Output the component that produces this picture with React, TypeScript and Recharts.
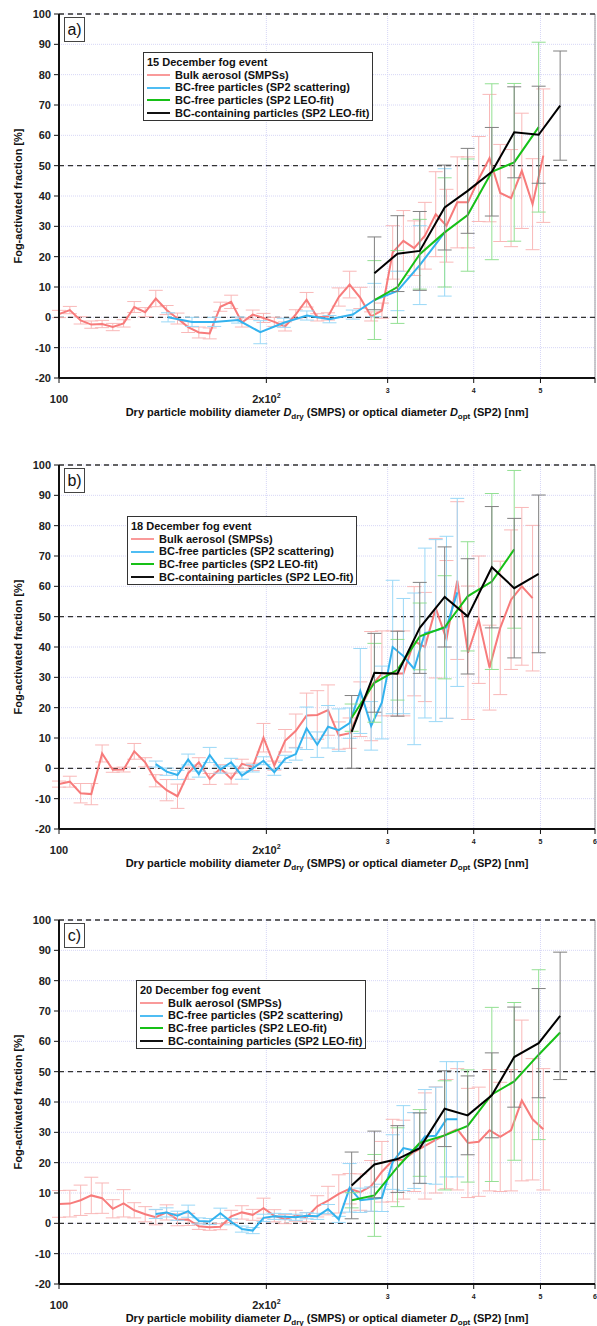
import React from 'react';
import { LineChart, Line, XAxis, YAxis, CartesianGrid, ErrorBar, ReferenceLine } from 'recharts';

const FONT = '"Liberation Sans", Arial, sans-serif';

// SMPS size bins [nm]
const smpsD = [100, 103.7, 107.5, 111.4, 115.5, 119.7, 124.1, 128.6, 133.4, 138.2, 143.3, 148.6, 154.0, 159.6, 165.5, 171.5, 177.8, 184.3, 191.1, 198.1, 205.4, 212.9, 220.7, 228.8, 237.1, 245.8, 254.8, 264.2, 273.8, 283.9, 294.3, 305.1, 316.2, 327.8, 339.8, 352.3, 365.2, 378.6, 392.4, 406.8, 421.7, 437.1, 453.2, 469.8, 487.0, 504.8];
// SP2 LEO-fit bins [nm]
const leoD = [266, 287, 310, 334, 363, 392, 425, 458, 497, 534];

// a) 15 December
const bulkA = [1.1, 2.4, -1.0, -2.4, -2.2, -3.2, -2.0, 3.4, 1.7, 6.2, 2.4, -0.4, -3.2, -5.0, -5.3, 3.5, 5.1, -1.7, 0.9, -0.2, -1.5, -3.0, 1.0, 5.8, 0.0, 0.3, 6.7, 10.8, 6.4, 0.3, 2.2, 21.4, 25.2, 22.8, 26.9, 34.0, 30.2, 37.9, 37.9, 45.6, 52.5, 41.0, 39.3, 48.3, 37.3, 53.3];
const bulkAErr = [1.2, 1.2, 1.2, 1.2, 1.2, 1.2, 1.2, 1.8, 1.5, 2.7, 1.5, 1.8, 1.8, 1.8, 1.8, 1.5, 2.2, 1.5, 1.5, 1.5, 1.5, 1.5, 1.5, 2.4, 1.2, 1.2, 3.0, 4.4, 3.5, 1.5, 2.5, 8.8, 10, 9, 11, 14, 12, 15, 15, 14, 21, 16, 16, 19, 15, 22];
const scatDA = [144, 156, 168, 182, 196, 212, 229, 247, 267, 287, 310, 334, 363];
const scatA = [0.0, -1.5, -1.5, -0.9, -4.9, -1.8, 0.6, -0.6, 0.9, 5.7, 8.7, 17.2, 28.0];
const scatAErr = [1.5, 1.5, 1.5, 1.0, 3.8, 1.5, 1.5, 1.2, 1.5, 5.5, 6.5, 13, 21];
const leoFreeA = [5.7, 10.0, 20.8, 28.0, 33.7, 48.0, 51.1, 62.7];
const leoFreeAErr = [13, 12, 11.5, 18, 18.5, 29, 26, 28];
const bcA = [14.5, 21.0, 21.9, 36.2, 41.7, 48.0, 61.0, 60.2, 69.8];
const bcAErr = [12, 12.5, 13, 14, 14, 14.6, 15, 16, 18];

// b) 18 December
const bulkB = [-5.2, -4.4, -8.2, -8.5, 4.9, -0.5, -0.4, 5.6, 2.0, -4.1, -7.2, -9.2, -1.6, 2.0, -3.5, 0.0, -3.4, 1.5, 0.5, 10.1, 0.9, 9.1, 12.4, 17.4, 17.6, 19.2, 10.8, 11.6, 19.5, 27.1, 31.3, 31.3, 31.3, 41.9, 40.0, 52.8, 42.5, 61.9, 38.1, 49.0, 33.2, 46.3, 55.6, 60.0, 56.1];
const bulkBErr = [1.0, 1.8, 3.2, 3.5, 2.8, 0.8, 0.8, 2.6, 1.5, 2.0, 3.5, 4.0, 2.0, 1.5, 1.8, 1.2, 1.8, 1.5, 1.2, 4.7, 1.5, 3.7, 5.5, 7.4, 8.0, 8.3, 4.5, 5.0, 9, 18, 14, 14, 14, 18, 18, 23, 26, 26, 22, 21, 14, 22, 23, 26, 24];
const scatB = [1.4, -1.1, -2.2, 2.9, -1.9, 4.4, -0.4, 2.0, -2.4, 0.0, 2.5, -1.3, 3.1, 4.7, 13.2, 7.8, 13.7, 12.6, 14.9, 25.5, 14.0, 21.7, 40.0, 37.0, 32.8, 44.6, 45.4, 46.5, 58.0];
const scatBErr = [1.0, 1.2, 1.5, 1.8, 1.0, 2.5, 1.2, 1.3, 1.2, 1.2, 1.3, 1.0, 1.2, 2.0, 7.0, 4.2, 7.0, 7.0, 5.0, 14, 8, 12, 22, 19, 25, 28, 30, 30, 31];
const leoFreeB = [16.7, 28.2, 32.5, 43.5, 46.5, 56.7, 61.6, 72.2];
const leoFreeBErr = [4.5, 13, 10, 11, 17, 18, 29, 26];
const bcB = [12.0, 31.5, 31.2, 46.3, 56.5, 50.1, 66.3, 59.4, 64.1];
const bcBErr = [12, 13, 14, 15, 16.5, 19, 20, 23, 26];

// c) 20 December
const bulkC = [6.4, 6.5, 7.6, 9.2, 8.3, 4.8, 6.6, 4.3, 3.0, 2.0, 3.6, 1.2, 1.3, -1.0, -1.3, -1.1, 2.3, 3.6, 2.8, 5.0, 2.5, 1.4, 2.5, 2.0, 5.6, 7.5, 9.7, 11.4, 10.3, 12.3, 17.0, 20.7, 21.0, 23.5, 25.5, 27.5, 29.4, 31.0, 26.5, 26.9, 30.7, 28.5, 30.7, 40.5, 34.3, 31.0];
const bulkCErr = [4.4, 4.4, 5.0, 6.0, 5.0, 3.0, 4.5, 2.5, 2.5, 2.5, 2.5, 2.0, 2.0, 1.0, 1.0, 1.0, 2.0, 2.2, 1.8, 3.3, 2.0, 1.5, 1.8, 1.5, 3.5, 4.7, 6.3, 5.0, 6.0, 8.4, 10, 13.6, 13, 13, 17.5, 17.5, 18, 20, 18, 18, 20, 18, 20, 26.5, 20, 20];
const scatC = [3.1, 3.6, 2.5, 4.0, 0.8, 0.6, 3.3, 0.5, -1.9, -2.4, 1.8, 2.3, 2.2, 2.0, 2.5, 2.3, 4.7, 1.3, 11.7, 7.6, 8.0, 8.4, 20.2, 24.8, 24.0, 28.6, 28.9, 34.3, 34.3];
const scatCErr = [1.5, 1.5, 1.5, 2.0, 1.0, 1.0, 1.7, 1.0, 1.0, 1.0, 1.2, 1.0, 1.0, 1.0, 1.0, 1.0, 1.5, 1.0, 8, 4, 4, 4.5, 9, 14, 12.5, 15.5, 16, 19, 19];
const leoFreeC = [7.6, 9.2, 18.5, 26.5, 29.0, 32.1, 42.5, 46.8, 55.6, 62.9];
const leoFreeCErr = [2.5, 13.5, 13, 11, 18, 18.5, 28.7, 26, 28, 0];
const bcC = [12.5, 19.4, 21.2, 24.8, 37.8, 35.6, 42.2, 54.8, 59.4, 68.4];
const bcCErr = [11, 11, 11, 11.6, 12.5, 13, 14, 16.5, 18, 21];

const yTicks = [-20, -10, 0, 10, 20, 30, 40, 50, 60, 70, 80, 90, 100];
const xTicks = [100, 200, 300, 400, 500, 600];

const rows = (d: number[], v: number[], e: number[]) => v.map((val, i) => ({ d: d[i], v: val, e: e[i] }));

const COLORS = {
  bulk: '#f77b7b', bulkErr: '#f9b8b8',
  scat: '#33b2ee', scatErr: '#9ad8f7',
  leo: '#17c017', leoErr: '#93e093',
  bc: '#000000', bcErr: '#808080',
};

const LEGEND = [
  { label: 'Bulk aerosol (SMPSs)', color: '#f99a9a' },
  { label: 'BC-free particles (SP2 scattering)', color: '#4fbdf3' },
  { label: 'BC-free particles (SP2 LEO-fit)', color: '#17c017' },
  { label: 'BC-containing particles (SP2 LEO-fit)', color: '#111' },
];

const PLOT_H = 364;
const CH = 14 + PLOT_H + 40;

const renderXTick = (props: any, six: boolean) => {
  const { x, y, payload } = props;
  const v = payload.value;
  const common = { fontFamily: FONT, fontWeight: 'bold' as const, fill: '#222', textAnchor: 'middle' as const };
  if (v === 100) return <text x={x} y={y + 20} fontSize={11} {...common}>100</text>;
  if (v === 200)
    return (
      <text x={x} y={y + 20} fontSize={11} {...common}>
        2x10<tspan dy={-5} fontSize={7}>2</tspan>
      </text>
    );
  if (v === 600 && !six) return <g />;
  return <text x={x} y={y + 10} fontSize={7} {...common}>{v / 100}</text>;
};

interface PanelProps {
  top: number;
  tag: string;
  title: string;
  legendLeft: number;
  legendTop: number;
  six: boolean;
  bulk: { d: number; v: number; e: number }[];
  scat: { d: number; v: number; e: number }[];
  leo: { d: number; v: number; e: number }[];
  bc: { d: number; v: number; e: number }[];
}

const Panel: React.FC<PanelProps> = ({ top, tag, title, legendLeft, legendTop, six, bulk, scat, leo, bc }) => (
  <div style={{ position: 'absolute', left: 0, top, width: 597, height: CH }}>
    <LineChart width={597} height={CH} margin={{ top: 14, right: 2, bottom: 0, left: 0 }}>
      <CartesianGrid stroke="#d6d6f6" strokeDasharray="1 1" />
      <XAxis
        dataKey="d" type="number" scale="log" domain={[100, 600]} allowDataOverflow
        ticks={xTicks} interval={0} height={40} tickSize={5} tickMargin={0}
        axisLine={{ stroke: '#111', strokeWidth: 2 }} tickLine={{ stroke: '#111' }}
        tick={(p: any) => renderXTick(p, six)}
      />
      <YAxis
        type="number" domain={[-20, 100]} ticks={yTicks} interval={0} width={59} allowDataOverflow
        tickSize={5} tickMargin={3} axisLine={{ stroke: '#111', strokeWidth: 2 }} tickLine={{ stroke: '#111' }}
        tick={{ fontSize: 11, fontWeight: 'bold', fill: '#222', fontFamily: FONT }}
      />
      <ReferenceLine x={600} stroke="#9a9a9a" />
      <ReferenceLine y={0} stroke="#333" strokeDasharray="5 4" strokeWidth={1.3} />
      <ReferenceLine y={50} stroke="#333" strokeDasharray="5 4" strokeWidth={1.3} />
      <ReferenceLine y={100} stroke="#333" strokeDasharray="5 4" strokeWidth={1.3} />
      <Line data={bulk} dataKey="v" stroke={COLORS.bulk} strokeWidth={2} dot={false} isAnimationActive={false}>
        <ErrorBar dataKey="e" direction="y" width={7} stroke={COLORS.bulkErr} strokeWidth={1} />
      </Line>
      <Line data={scat} dataKey="v" stroke={COLORS.scat} strokeWidth={2} dot={false} isAnimationActive={false}>
        <ErrorBar dataKey="e" direction="y" width={7} stroke={COLORS.scatErr} strokeWidth={1} />
      </Line>
      <Line data={leo} dataKey="v" stroke={COLORS.leo} strokeWidth={2} dot={false} isAnimationActive={false}>
        <ErrorBar dataKey="e" direction="y" width={7} stroke={COLORS.leoErr} strokeWidth={1} />
      </Line>
      <Line data={bc} dataKey="v" stroke={COLORS.bc} strokeWidth={2} dot={false} isAnimationActive={false}>
        <ErrorBar dataKey="e" direction="y" width={7} stroke={COLORS.bcErr} strokeWidth={1} />
      </Line>
    </LineChart>

    {/* panel tag */}
    <div style={{
      position: 'absolute', left: 64, top: 17, width: 19, height: 23, border: '1px solid #444',
      fontFamily: FONT, fontSize: 16, lineHeight: '23px', textAlign: 'center', color: '#111',
    }}>{tag}</div>

    {/* legend */}
    <div style={{
      position: 'absolute', left: legendLeft, top: legendTop, width: 230, height: 69,
      border: '1.5px solid #333', background: '#fff', fontFamily: FONT, fontWeight: 'bold',
      fontSize: 11, color: '#111', padding: '3px 0 0 3px', boxSizing: 'border-box', lineHeight: '12.7px',
      whiteSpace: 'nowrap',
    }}>
      <div>{title}</div>
      {LEGEND.map((it) => (
        <div key={it.label} style={{ display: 'flex', alignItems: 'center' }}>
          <span style={{ display: 'inline-block', flex: 'none', width: 23, height: 2, background: it.color, marginRight: 5 }} />
          <span>{it.label}</span>
        </div>
      ))}
    </div>

    {/* y axis title */}
    <div style={{
      position: 'absolute', left: 18, top: 14 + PLOT_H / 2, width: 200, textAlign: 'center',
      transform: 'translate(-50%, -50%) rotate(-90deg)', fontFamily: FONT, fontWeight: 'bold',
      fontSize: 11, color: '#111', whiteSpace: 'nowrap',
    }}>Fog-activated fraction [%]</div>

    {/* x axis title */}
    <div style={{
      position: 'absolute', left: 327, top: 14 + PLOT_H + 27, transform: 'translateX(-50%)',
      fontFamily: FONT, fontWeight: 'bold', fontSize: 11, color: '#111', whiteSpace: 'nowrap', lineHeight: '14px',
    }}>
      Dry particle mobility diameter <i>D</i><sub style={{ fontSize: 8 }}>dry</sub> (SMPS) or optical diameter{' '}
      <i>D</i><sub style={{ fontSize: 8 }}>opt</sub> (SP2) [nm]
    </div>
  </div>
);

export default function App() {
  return (
    <div style={{ position: 'absolute', left: 0, top: 0, width: 597, height: 1326, background: '#fff' }}>
      <Panel
        top={0} tag="a)" title="15 December fog event" legendLeft={143} legendTop={52} six={false}
        bulk={rows(smpsD, bulkA, bulkAErr)}
        scat={rows(scatDA, scatA, scatAErr)}
        leo={rows(leoD.slice(1), leoFreeA, leoFreeAErr)}
        bc={rows(leoD.slice(1), bcA, bcAErr)}
      />
      <Panel
        top={451} tag="b)" title="18 December fog event" legendLeft={127} legendTop={65} six
        bulk={rows(smpsD, bulkB, bulkBErr)}
        scat={rows(smpsD.slice(9), scatB, scatBErr)}
        leo={rows(leoD, leoFreeB, leoFreeBErr)}
        bc={rows(leoD, bcB, bcBErr)}
      />
      <Panel
        top={906} tag="c)" title="20 December fog event" legendLeft={136} legendTop={74} six
        bulk={rows(smpsD, bulkC, bulkCErr)}
        scat={rows(smpsD.slice(9), scatC, scatCErr)}
        leo={rows(leoD, leoFreeC, leoFreeCErr)}
        bc={rows(leoD, bcC, bcCErr)}
      />
    </div>
  );
}
